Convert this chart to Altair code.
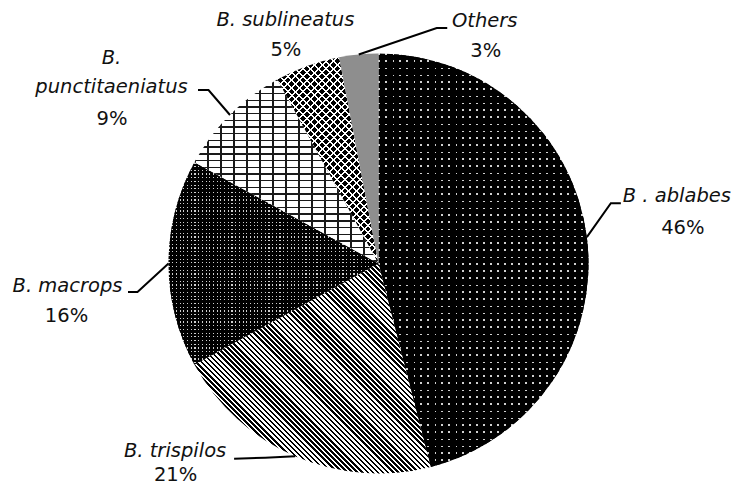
import math
import altair as alt
import pandas as pd

# ---------------- data ----------------
keys = ["ablabes", "trispilos", "macrops", "punct", "sublin", "others"]
species = ["B . ablabes", "B. trispilos", "B. macrops", "B. punctitaeniatus",
           "B. sublineatus", "Others"]
name_lines = [["B . ablabes"], ["B. trispilos"], ["B. macrops"],
              ["B.", "punctitaeniatus"], ["B. sublineatus"], ["Others"]]
percent = [46, 21, 16, 9, 5, 3]
pct_labels = ["46%", "21%", "16%", "9%", "5%", "3%"]

# ---------------- layout / style ----------------
W, H = 724, 477
CX, CY, R = 370.5, 255.5, 210
FONT = "DejaVu Sans"
FS = 19.5
TXT = "#111111"

# name-label centre relative to the rim point at the slice middle
label_nudge = {"ablabes": (90, -41), "trispilos": (-120, -5), "macrops": (-101, 22),
               "punct": (-118.5, -28), "sublin": (-22, -46), "others": (126, -33)}
pct_offset = {"ablabes": (6, 32), "trispilos": (0.5, 24), "macrops": (-1, 30),
              "punct": (0.5, 31.5), "sublin": (0.5, 30), "others": (1, 30)}
line_gap = 29.5
# leader elbow / end relative to name-label centre
leader_pts = {"ablabes": [(-56, 7), (-66, 7)],
              "trispilos": [(59, 7.5), (90, 6.5)],
              "macrops": [(60.5, 6.5), (70, 6.5)],
              "punct": [(86.5, 3), (97, 3)],
              "others": [(-37.5, 6.5), (-48, 6.5)]}

# hatch patterns: list of layers (normal angle deg, period px, band fraction, band colour, gap colour)
CLEAR = "rgba(0,0,0,0)"
patterns = {
    "ablabes": [(0, 7.0, 0.16, "#d0d0d0", "#000000"), (90, 7.0, 0.16, CLEAR, "#000000")],
    "trispilos": [(-45, 3.6, 0.5, "#000000", "#ffffff")],
    "macrops": [(0, 3.7, 0.32, "#cfcfcf", "#000000"), (90, 3.7, 0.32, CLEAR, "#000000")],
    "punct": [(90, 6.7, 0.2, "#1a1a1a", "#ffffff"), (0, 13.0, 0.1, "#1a1a1a", CLEAR)],
    "sublin": [(45, 5.4, 0.74, "#000000", "#ffffff"), (-45, 5.4, 0.74, CLEAR, "#ffffff")],
    "others": "#8e8e8e",
}

# ---------------- tables ----------------
df = pd.DataFrame({"key": keys, "species": species, "value": percent, "pct": pct_labels})
df["end"] = df["value"].cumsum()
df["start"] = df["end"] - df["value"]
df["mid"] = (df["start"] + df["end"]) / 2
ang = df["mid"] / 100 * 2 * math.pi
df["rim_x"] = CX + R * ang.apply(math.sin)
df["rim_y"] = CY - R * ang.apply(math.cos)

name_rows, pct_rows, lead_rows = [], [], []
for i, k in enumerate(keys):
    rx, ry = df.loc[i, "rim_x"], df.loc[i, "rim_y"]
    nx, ny = rx + label_nudge[k][0], ry + label_nudge[k][1]
    lines = name_lines[i]
    for j, t in enumerate(lines):
        name_rows.append({"t": t, "x": nx, "y": ny - (len(lines) - 1 - j) * line_gap})
    pct_rows.append({"t": df.loc[i, "pct"], "x": nx + pct_offset[k][0], "y": ny + pct_offset[k][1]})
    if k in leader_pts:
        (ex, ey), (bx, by) = leader_pts[k]
        lead_rows += [{"k": k, "o": 0, "x": nx + ex, "y": ny + ey},
                      {"k": k, "o": 1, "x": nx + bx, "y": ny + by},
                      {"k": k, "o": 2, "x": rx, "y": ry}]
names_df = pd.DataFrame(name_rows)
pcts_df = pd.DataFrame(pct_rows)
lead_df = pd.DataFrame(lead_rows)


def slice_bbox(a0, a1):
    pts = [(0.0, 0.0)]
    angs = [a0, a1] + [c for c in (0, 90, 180, 270, 360) if a0 < c < a1]
    for a in angs:
        r = math.radians(a)
        pts.append((R * math.sin(r), -R * math.cos(r)))
    xs = [p[0] for p in pts]
    ys = [p[1] for p in pts]
    return max(xs) - min(xs), max(ys) - min(ys)


def stripe_gradient(bw, bh, ang_deg, period, frac, on, off):
    a = math.radians(ang_deg)
    nx, ny = math.cos(a), math.sin(a)
    if abs(nx) < 1e-9:
        nx = 0.0
    if abs(ny) < 1e-9:
        ny = 0.0
    D = abs(nx) * bw + abs(ny) * bh
    L = (nx * nx * bw * bw + ny * ny * bh * bh) / D
    x1 = 0 if nx >= 0 else 1
    y1 = 0 if ny >= 0 else 1
    x2 = x1 + nx * bw / L
    y2 = y1 + ny * bh / L
    dt = period / D
    stops = []
    k = 0
    while k * dt < 1:
        t0 = k * dt
        t1 = min(t0 + frac * dt, 1.0)
        t2 = min((k + 1) * dt, 1.0)
        stops += [{"offset": round(t0, 5), "color": on}, {"offset": round(t1, 5), "color": on},
                  {"offset": round(t1, 5), "color": off}, {"offset": round(t2, 5), "color": off}]
        k += 1
    return {"gradient": "linear", "x1": x1, "y1": y1, "x2": x2, "y2": y2, "stops": stops}


theta_scale = alt.Scale(domain=[0, 100], range=[0, 2 * math.pi])
layers = []
for i, k in enumerate(keys):
    sub = df[df["key"] == k]
    a0 = df.loc[i, "start"] * 3.6
    a1 = df.loc[i, "end"] * 3.6
    bw, bh = slice_bbox(a0, a1)
    pat = patterns[k]
    fills = [pat] if isinstance(pat, str) else [stripe_gradient(bw, bh, *p) for p in pat]
    for f in fills:
        layers.append(
            alt.Chart(sub).mark_arc(fill=f, outerRadius=R, strokeWidth=0).encode(
                theta=alt.Theta("start:Q", scale=theta_scale),
                theta2="end:Q",
                x=alt.value(CX),
                y=alt.value(CY),
            )
        )

leaders = alt.Chart(lead_df).mark_line(color="#000000", strokeWidth=2).encode(
    x=alt.X("x:Q", scale=None, axis=None),
    y=alt.Y("y:Q", scale=None, axis=None),
    detail="k:N",
    order="o:Q",
)

names = alt.Chart(names_df).mark_text(
    font=FONT, fontSize=FS, fontStyle="italic", align="center", baseline="middle", color=TXT
).encode(x=alt.X("x:Q", scale=None, axis=None), y=alt.Y("y:Q", scale=None, axis=None), text="t:N")

pcts = alt.Chart(pcts_df).mark_text(
    font=FONT, fontSize=FS, align="center", baseline="middle", color=TXT
).encode(x=alt.X("x:Q", scale=None, axis=None), y=alt.Y("y:Q", scale=None, axis=None), text="t:N")

chart = alt.layer(*layers, leaders, names, pcts).properties(
    width=W, height=H, padding=0, autosize=alt.AutoSizeParams(type="none"), background="white"
).configure_view(strokeWidth=0)

chart.save("out.html", embed_options={"renderer": "svg", "actions": False})
